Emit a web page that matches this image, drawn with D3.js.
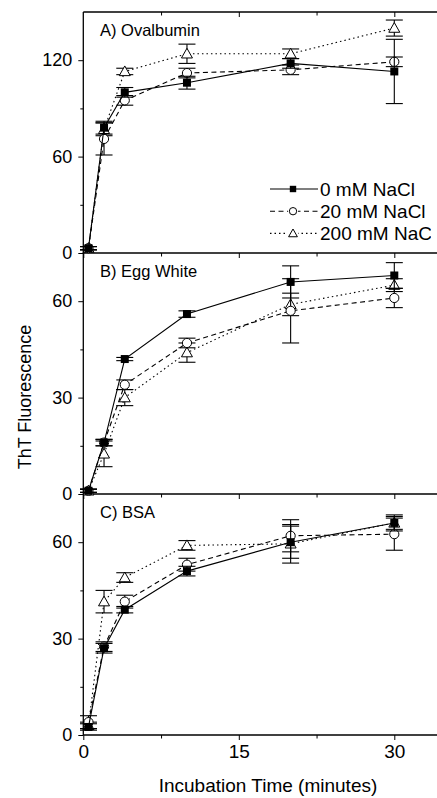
<!DOCTYPE html>
<html>
<head>
<meta charset="utf-8">
<script src="https://cdn.jsdelivr.net/npm/d3@7"></script>
<style>
body { margin: 0; background: white; }
svg { display: block; font-family: "Liberation Sans", Arial, sans-serif; }
</style>
</head>
<body>
<script>
// incubation times (minutes)
let times = [0.5, 2, 4, 10, 20, 30];
let seriesNames = ["0 mM NaCl", "20 mM NaCl", "200 mM NaCl"];
let panelNames = ["A) Ovalbumin", "B) Egg White", "C) BSA"];

// A) Ovalbumin
let ovaMean0 = [3, 78, 100, 106, 118, 113];
let ovaErr0 = [1, 4, 3, 4, 3, 20];
let ovaMean20 = [3, 71, 95, 112, 114, 119];
let ovaErr20 = [1, 10, 3, 3, 3, 3];
let ovaMean200 = [3, 77, 113, 124, 124, 140];
let ovaErr200 = [1, 4, 2, 6, 3, 5];

// B) Egg White
let eggMean0 = [1, 16, 42, 56, 66, 68];
let eggErr0 = [0.5, 1, 0.5, 1, 5, 4];
let eggMean20 = [1, 16, 34, 47, 57, 61];
let eggErr20 = [0.5, 1, 1.5, 1.5, 10, 3];
let eggMean200 = [1, 12.5, 30, 44, 59, 65];
let eggErr200 = [0.5, 4, 2.5, 3, 3.5, 2];

// C) BSA
let bsaMean0 = [2.5, 27, 39, 51, 60, 66];
let bsaErr0 = [1, 1.5, 1, 1.5, 5, 2.5];
let bsaMean20 = [4, 27.5, 41.5, 53, 62, 62.5];
let bsaErr20 = [2, 1.5, 2, 2, 5, 5];
let bsaMean200 = [3, 41.5, 49, 59, 59.5, 66];
let bsaErr200 = [1, 3.5, 1.5, 1.5, 6, 2];

let yMax = [150, 75, 75];
let yMajor = [[0, 60, 120], [0, 30, 60], [0, 30, 60]];
let yMinor = [[30, 90], [15, 45], [15, 45]];
let xMajor = [0, 15, 30];
let xMinor = [7.5, 22.5];

let panels = [
    [[ovaMean0, ovaErr0], [ovaMean20, ovaErr20], [ovaMean200, ovaErr200]],
    [[eggMean0, eggErr0], [eggMean20, eggErr20], [eggMean200, eggErr200]],
    [[bsaMean0, bsaErr0], [bsaMean20, bsaErr20], [bsaMean200, bsaErr200]]
];

let width = 437, height = 798;
let plotLeft = 83.3, plotTop = 12, panelH = 241;

let svg = d3.select("body").append("svg")
    .attr("width", width)
    .attr("height", height);

svg.append("rect").attr("width", width).attr("height", height).attr("fill", "white");

svg.append("clipPath").attr("id", "legendClip")
    .append("rect").attr("x", 0).attr("y", 0).attr("width", 431).attr("height", height);

let x = d3.scaleLinear().domain([0, 30]).range([plotLeft, 394.3]);
let xEnd = 450;

let dashes = [null, "5,3.5", "1.5,3"];

function marker(g, k, s) {
    s = s || 1;
    if (k === 0) {
        g.append("rect").attr("x", -4 * s).attr("y", -4 * s).attr("width", 8 * s).attr("height", 8 * s)
            .attr("fill", "black");
    } else if (k === 1) {
        g.append("circle").attr("r", 4.6 * s).attr("fill", "white")
            .attr("stroke", "black").attr("stroke-width", 1);
    } else {
        g.append("path").attr("d", "M0," + (-5.5 * s) + "L" + (5.5 * s) + "," + (4.2 * s) + "L" + (-5.5 * s) + "," + (4.2 * s) + "Z")
            .attr("fill", "white")
            .attr("stroke", "black").attr("stroke-width", 1);
    }
}

panels.forEach((series, p) => {
    let y0 = plotTop + p * panelH;
    let y = d3.scaleLinear().domain([0, yMax[p]]).range([y0 + panelH, y0]);
    let g = svg.append("g");

    // left axis
    g.append("g")
        .attr("transform", "translate(" + plotLeft + ",0)")
        .call(d3.axisLeft(y).tickValues(yMajor[p]).tickSize(5).tickSizeOuter(0).tickPadding(6))
        .call(a => a.select(".domain").remove())
        .selectAll("text").attr("font-size", 18).attr("font-family", "Liberation Sans, Arial, sans-serif")
        .attr("fill", "black");
    g.append("g")
        .attr("transform", "translate(" + plotLeft + ",0)")
        .call(d3.axisLeft(y).tickValues(yMinor[p]).tickSize(3).tickFormat(""))
        .call(a => a.select(".domain").remove());

    // bottom axis (ticks pointing down)
    let bx = g.append("g")
        .attr("transform", "translate(0," + (y0 + panelH) + ")")
        .call(d3.axisBottom(x).tickValues(xMajor).tickSize(5).tickSizeOuter(0).tickPadding(5)
            .tickFormat(p === 2 ? d3.format("d") : ""));
    bx.select(".domain").remove();
    bx.selectAll("text").attr("font-size", 19).attr("font-family", "Liberation Sans, Arial, sans-serif")
        .attr("fill", "black");
    g.append("g")
        .attr("transform", "translate(0," + (y0 + panelH) + ")")
        .call(d3.axisBottom(x).tickValues(xMinor).tickSize(3.5).tickFormat(""))
        .call(a => a.select(".domain").remove());

    g.append("line")
        .attr("x1", plotLeft).attr("x2", xEnd)
        .attr("y1", y0 + panelH).attr("y2", y0 + panelH)
        .attr("stroke", "black").attr("stroke-width", 1.3);

    if (p === 0) {
        // top axis, ticks inward
        g.append("g")
            .attr("transform", "translate(0," + y0 + ")")
            .call(d3.axisBottom(x).tickValues(xMajor.slice(1)).tickSize(5).tickFormat(""))
            .call(a => a.select(".domain").remove());
        g.append("g")
            .attr("transform", "translate(0," + y0 + ")")
            .call(d3.axisBottom(x).tickValues(xMinor).tickSize(3.5).tickFormat(""))
            .call(a => a.select(".domain").remove());
        g.append("line")
            .attr("x1", plotLeft).attr("x2", xEnd)
            .attr("y1", y0).attr("y2", y0)
            .attr("stroke", "black").attr("stroke-width", 1.3);
    }

    g.append("text")
        .attr("x", 100).attr("y", y0 + 24)
        .attr("font-size", 16.5)
        .text(panelNames[p]);

    let line = d3.line().x((d, i) => x(times[i])).y(d => y(d));

    // draw series back to front: 200, 20, 0
    [2, 1, 0].forEach(k => {
        let mean = series[k][0], err = series[k][1];
        g.append("path")
            .attr("d", line(mean))
            .attr("fill", "none")
            .attr("stroke", "black")
            .attr("stroke-width", 1.1)
            .attr("stroke-dasharray", dashes[k]);

        let eb = g.append("g").attr("class", "err");
        mean.forEach((m, i) => {
            let cx = x(times[i]);
            eb.append("line").attr("x1", cx).attr("x2", cx)
                .attr("y1", y(m - err[i])).attr("y2", y(m + err[i]));
            [m - err[i], m + err[i]].forEach(v => {
                eb.append("line").attr("x1", cx - 8.5).attr("x2", cx + 8.5)
                    .attr("y1", y(v)).attr("y2", y(v));
            });
        });
        eb.selectAll("line").attr("stroke", "black").attr("stroke-width", 1.1);

        mean.forEach((m, i) => {
            let mg = g.append("g").attr("transform", "translate(" + x(times[i]) + "," + y(m) + ")");
            marker(mg, k);
        });
    });
});

// left axis line
svg.append("line")
    .attr("x1", plotLeft).attr("x2", plotLeft)
    .attr("y1", plotTop).attr("y2", plotTop + 3 * panelH)
    .attr("stroke", "black").attr("stroke-width", 1.3);

// legend
let legend = svg.append("g").attr("clip-path", "url(#legendClip)");
seriesNames.forEach((name, k) => {
    let ly = 189 + k * 22.2;
    legend.append("line")
        .attr("x1", 270).attr("x2", 318)
        .attr("y1", ly).attr("y2", ly)
        .attr("stroke", "black").attr("stroke-width", 1.1)
        .attr("stroke-dasharray", dashes[k]);
    let mg = legend.append("g").attr("transform", "translate(293," + ly + ")");
    if (k > 0) {
        mg.append("rect").attr("x", -5).attr("y", -5).attr("width", 10).attr("height", 10).attr("fill", "white");
    }
    marker(mg, k, 0.8);
    legend.append("text")
        .attr("x", 320).attr("y", ly + 7)
        .attr("font-size", 19)
        .text(name);
});

// axis titles
svg.append("text")
    .attr("x", 268).attr("y", 792)
    .attr("text-anchor", "middle")
    .attr("font-size", 19)
    .text("Incubation Time (minutes)");

svg.append("text")
    .attr("transform", "translate(31,397)rotate(-90)")
    .attr("text-anchor", "middle")
    .attr("font-size", 18)
    .text("ThT Fluorescence");
</script>
</body>
</html>
